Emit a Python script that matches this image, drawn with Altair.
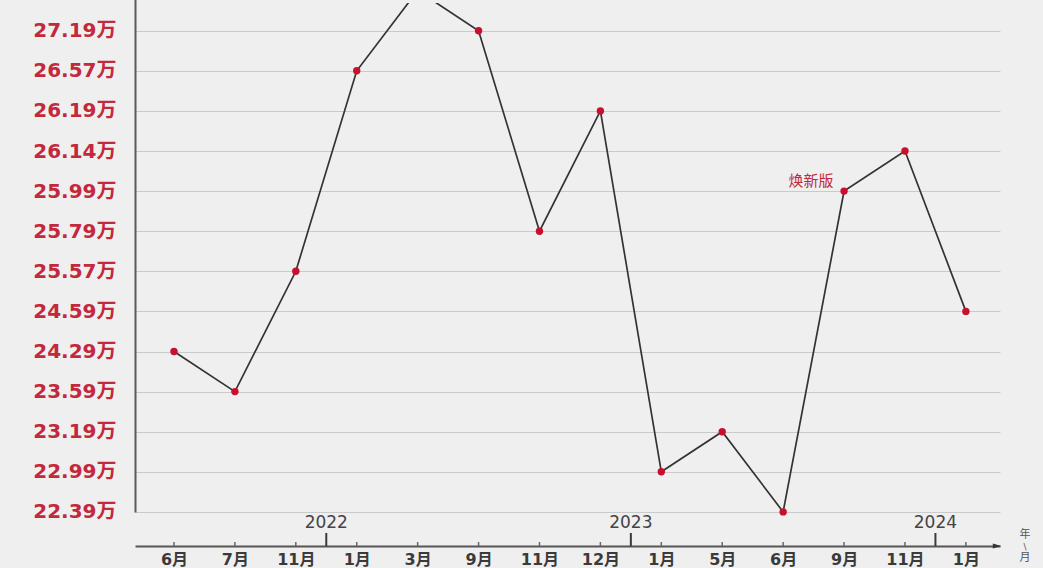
import altair as alt
import pandas as pd

# Monthly series: period key, displayed month, average price (万元)
periods = ["2021-06", "2021-07", "2021-11", "2022-01", "2022-03", "2022-09", "2022-11",
           "2022-12", "2023-01", "2023-05", "2023-06", "2023-09", "2023-11", "2024-01"]
month_labels = ["6月", "7月", "11月", "1月", "3月", "9月", "11月",
                "12月", "1月", "5月", "6月", "9月", "11月", "1月"]
prices = [24.29, 23.59, 25.57, 26.57, 27.59, 27.19, 25.79,
          26.19, 22.99, 23.19, 22.39, 25.99, 26.14, 24.59]

note_period = "2023-09"
note_text = "焕新版"
unit_chars = ["年", "\\", "月"]

W, H = 865, 543
FONT = "DejaVu Sans, Noto Sans CJK SC"
RED = "#c3283c"

df = pd.DataFrame({
    "idx": list(range(len(periods))),
    "period": periods,
    "month": month_labels,
    "price": prices,
})
df["price_label"] = df["price"].map(lambda v: f"{v:.2f}")

# every distinct price gets its own evenly spaced level, highest at the top;
# the peak level sits just above the frame, so it gets no label or grid line
level_domain = [f"{v:.2f}" for v in sorted(set(prices), reverse=True)]
shown_levels = level_domain[1:]

# year boundaries sit halfway between the last month of one year and the first of the next
years = [p[:4] for p in periods]
bounds = pd.DataFrame([
    {"pos": i - 0.5, "year": years[i]}
    for i in range(1, len(periods)) if years[i] != years[i - 1]
])

month_expr = "[" + ",".join(f"'{m}'" for m in month_labels) + "][datum.value]"

x_scale = alt.Scale(domain=[-0.64, 13.56], nice=False, zero=False)
y_scale = alt.Scale(type="point", domain=level_domain, range=[-12.4, 508.9], padding=0)

x_enc = alt.X(
    "idx:Q", scale=x_scale, title=None,
    axis=alt.Axis(values=list(range(len(periods))), labelExpr=month_expr, grid=False,
                  ticks=False, domainColor="#555555", domainWidth=2,
                  labelFont=FONT, labelFontSize=16, labelFontWeight="bold",
                  labelColor="#3a3a3a", labelPadding=5, labelFlush=False),
)
y_enc = alt.Y(
    "price_label:O", scale=y_scale, title=None, sort=level_domain,
    axis=alt.Axis(values=shown_levels, labelExpr="datum.value + '万'", ticks=False,
                  domainColor="#5a5a5a", domainWidth=2, labelFont=FONT, labelFontSize=20,
                  labelFontWeight="bold", labelColor=RED, labelPadding=19, grid=True,
                  gridColor="#cacaca", gridWidth=1),
)

base = alt.Chart(df)

line = base.mark_line(color="#333333", strokeWidth=1.7, clip=True).encode(
    x=x_enc, y=y_enc, order=alt.Order("idx:Q")
)
dots = base.mark_circle(color="#c8102e", size=55, opacity=1, clip=True).encode(
    x="idx:Q", y=alt.Y("price_label:O", sort=level_domain)
)

note = base.transform_filter(alt.datum.period == note_period).mark_text(
    text=note_text, font=FONT, fontSize=15, color=RED, dx=-33, dy=-10
).encode(x="idx:Q", y=alt.Y("price_label:O", sort=level_domain))

# small month ticks standing on the time axis
month_ticks = base.mark_rule(color="#666666", strokeWidth=1.5).encode(
    x="idx:Q", y=alt.value(H - 4), y2=alt.value(H)
)

year_ticks = alt.Chart(bounds).mark_rule(color="#3a3a3a", strokeWidth=2).encode(
    x="pos:Q", y=alt.value(H - 13), y2=alt.value(H)
)
year_text = alt.Chart(bounds).mark_text(
    font=FONT, fontSize=17, color="#444444", baseline="middle"
).encode(x="pos:Q", y=alt.value(H - 23), text="year:N")

one_row = alt.Chart(pd.DataFrame({"k": [0]}))

# arrow head at the end of the time axis
arrow = one_row.mark_point(
    shape="M -1 -0.6 L 1 0 L -1 0.6 Z", filled=True, color="#333333", size=70, opacity=1
).encode(x=alt.value(W - 3), y=alt.value(H))

# unit caption stacked vertically beside the arrow
unit_sizes = [11, 9, 11]
unit_layers = [
    one_row.mark_text(text=ch, font=FONT, fontSize=sz, color="#555555",
                      baseline="middle").encode(x=alt.value(W + 25),
                                                y=alt.value(H - 11 + 11.5 * i))
    for i, (ch, sz) in enumerate(zip(unit_chars, unit_sizes))
]

chart = alt.layer(
    line, dots, note, month_ticks, year_ticks, year_text, arrow, *unit_layers
).properties(
    width=W, height=H,
    autosize=alt.AutoSizeParams(type="none"),
    padding={"left": 135, "top": 3, "right": 43, "bottom": 22},
    background="#efefef",
).configure_view(stroke=None)

chart.save("out.html", embed_options={"renderer": "svg", "actions": False})
